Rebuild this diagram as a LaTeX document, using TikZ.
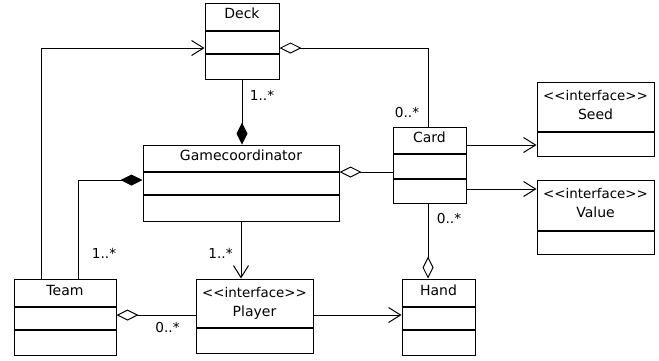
\documentclass[tikz,border=0pt]{standalone}
\usepackage{fontspec}
\setmainfont{DejaVu Sans}[Ligatures=TeXOff]
\usetikzlibrary{arrows.meta}
\tikzset{
  umlbox/.style={draw, line width=1pt, fill=white, inner sep=0pt},
  sepline/.style={line width=2pt},
  txt/.style={anchor=base, inner sep=0pt, font=\fontsize{14}{16}\selectfont},
  itxt/.style={anchor=base, inner sep=0pt, font=\fontsize{13.4}{16}\selectfont},
  lbl/.style={anchor=base, inner sep=0pt, font=\fontsize{13.7}{16}\selectfont},
  conn/.style={line width=1pt},
  odia/.tip={Diamond[open,length=22pt,width=11pt,line width=1pt]},
  fdia/.tip={Diamond[length=22pt,width=11pt]},
  barb/.tip={Straight Barb[length=12pt,width=15pt,line width=1pt]}
}
\begin{document}
\begin{tikzpicture}[x=1pt,y=-1pt]
\useasboundingbox (0,0) rectangle (659,360);
% boxes
\node[umlbox, minimum width=74pt, minimum height=76pt] (deck) at (242,41) {};
\node[umlbox, minimum width=196pt, minimum height=76pt] (game) at (241,183) {};
\node[umlbox, minimum width=73pt, minimum height=76pt] (card) at (429.5,165) {};
\node[umlbox, minimum width=117pt, minimum height=74pt] (seed) at (595.5,119) {};
\node[umlbox, minimum width=117pt, minimum height=74pt] (value) at (595.5,217) {};
\node[umlbox, minimum width=102pt, minimum height=76pt] (team) at (65,317) {};
\node[umlbox, minimum width=117pt, minimum height=74pt] (player) at (254.5,316) {};
\node[umlbox, minimum width=73pt, minimum height=76pt] (hand) at (438.5,317) {};
% separators
\draw[sepline] (deck.west |- 0,31) -- (deck.east |- 0,31);
\draw[sepline] (deck.west |- 0,54) -- (deck.east |- 0,54);
\draw[sepline] (game.west |- 0,172) -- (game.east |- 0,172);
\draw[sepline] (game.west |- 0,195) -- (game.east |- 0,195);
\draw[sepline] (card.west |- 0,154) -- (card.east |- 0,154);
\draw[sepline] (card.west |- 0,179) -- (card.east |- 0,179);
\draw[sepline] (seed.west |- 0,132) -- (seed.east |- 0,132);
\draw[sepline] (value.west |- 0,231) -- (value.east |- 0,231);
\draw[sepline] (team.west |- 0,307) -- (team.east |- 0,307);
\draw[sepline] (team.west |- 0,330) -- (team.east |- 0,330);
\draw[sepline] (player.west |- 0,328) -- (player.east |- 0,328);
\draw[sepline] (hand.west |- 0,307) -- (hand.east |- 0,307);
\draw[sepline] (hand.west |- 0,330) -- (hand.east |- 0,330);
% titles
\node[txt] (tdeck) at (242,18.5) {Deck};
\node[txt] (tgame) at (241,160.5) {Gamecoordinator};
\node[txt] (tcard) at (429.5,142.5) {Card};
\node[itxt] (tseedi) at (595.5,100) {<<interface>>};
\node[txt] (tseed) at (595.5,119) {Seed};
\node[itxt] (tvaluei) at (595.5,198) {<<interface>>};
\node[txt] (tvalue) at (595.5,217) {Value};
\node[txt] (tteam) at (65,295) {Team};
\node[itxt] (tplayeri) at (254.5,297) {<<interface>>};
\node[txt] (tplayer) at (254.5,316) {Player};
\node[txt] (thand) at (438.5,295) {Hand};
% bend coordinates
\coordinate (c1) at (41,48);
\coordinate (c2) at (428,48);
\coordinate (c4) at (78,180);
% connectors
\draw[conn, -barb] (team.north -| c1) -- (c1) -- (c1 -| deck.west);
\draw[conn, odia-] (deck.east |- c2) -- (c2) -- (c2 |- card.north);
\draw[conn, -fdia] (deck.south) -- (deck.south |- game.north);
\draw[conn, fdia-] (game.west |- c4) -- (c4) -- (c4 |- team.north);
\draw[conn, -barb] (game.south) -- (game.south |- player.north);
\draw[conn, odia-] (team.east |- 0,315) -- (player.west |- 0,315);
\draw[conn, -barb] (player.east |- 0,315) -- (hand.west |- 0,315);
\draw[conn, -odia] (card.south -| c2) -- (c2 |- hand.north);
\draw[conn, odia-] (game.east |- 0,172) -- (card.west |- 0,172);
\draw[conn, -barb] (card.east |- 0,145) -- (seed.west |- 0,145);
\draw[conn, -barb] (card.east |- 0,189) -- (value.west |- 0,189);
% multiplicities
\node[lbl] (m1) at (407,117) {0..*};
\node[lbl] (m2) at (262,100) {1..*};
\node[lbl] (m3) at (104,258) {1..*};
\node[lbl] (m4) at (220.5,258) {1..*};
\node[lbl] (m5) at (167.5,332) {0..*};
\node[lbl] (m6) at (449,223) {0..*};
\end{tikzpicture}
\end{document}
